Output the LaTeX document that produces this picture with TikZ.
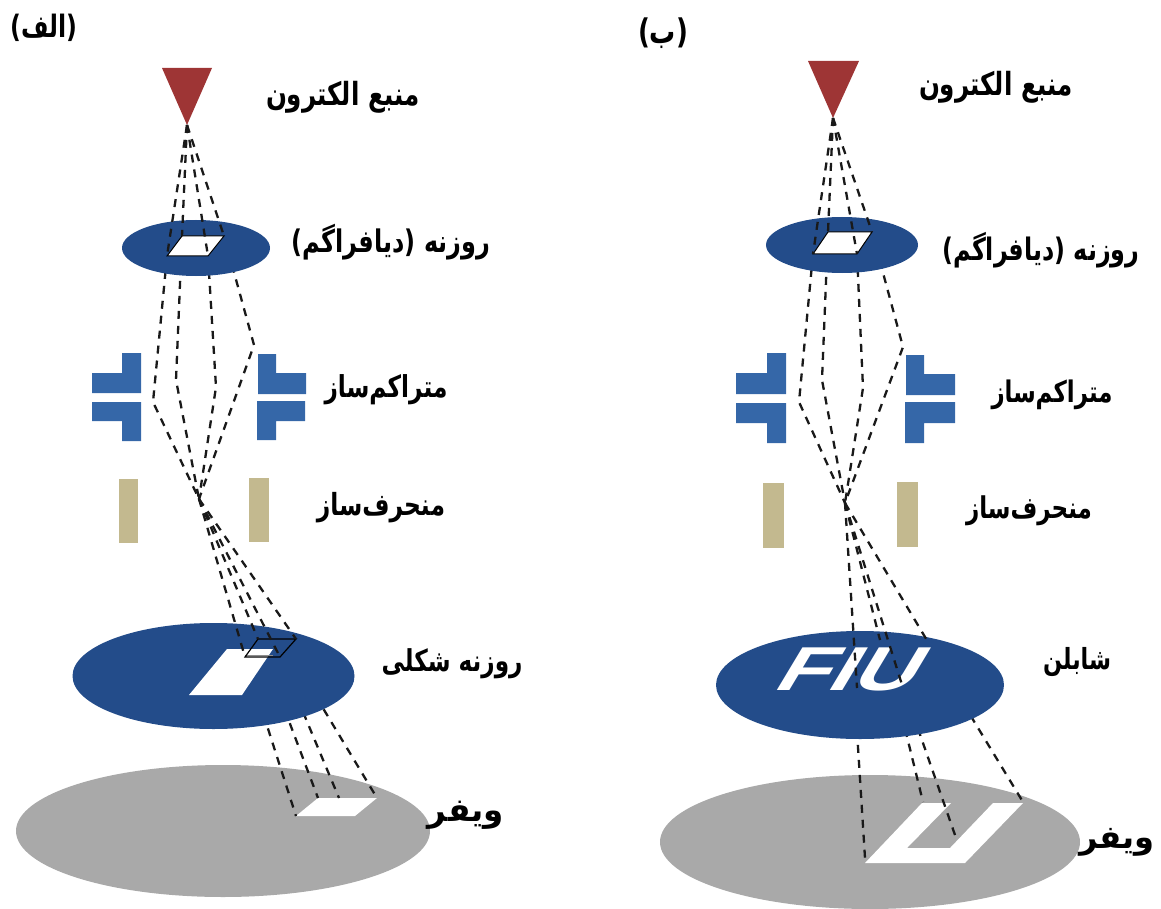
\documentclass[tikz,border=0pt]{standalone}
\usepackage{graphicx}
\usepackage{fontspec}
\setmainfont{Liberation Sans}
\newfontfamily\faf[Script=Arabic]{DejaVu Sans}
\TeXXeTstate=1
\newcommand{\lab}[3][1.3]{\scalebox{1}[#1]{\resizebox{#2pt}{!}{\faf\bfseries #3}}}
\definecolor{darkblue}{HTML}{234C8A}
\definecolor{midblue}{HTML}{3567A8}
\definecolor{srcred}{HTML}{9E3535}
\definecolor{tan2}{HTML}{C3B98F}
\definecolor{wafergrey}{HTML}{A9A9A9}
\tikzset{
  beam/.style={draw=black!90,line width=2.3pt,dash pattern=on 8pt off 7pt,line join=round},
  dia/.style={fill=darkblue,draw=none},
  plate/.style={fill=midblue,draw=none},
  defl/.style={fill=tan2,draw=none},
  wafer/.style={fill=wafergrey,draw=none},
  src/.style={fill=srcred,draw=none},
  hole/.style={fill=white,draw=none},
  frame/.style={fill=white,draw=black,line width=1pt},
  txt/.style={inner sep=0pt,outer sep=0pt}
}
\begin{document}
\begin{tikzpicture}[x=1pt,y=-1pt]
\useasboundingbox (0,0) rectangle (1161,909);
% ---------- panel A ----------
\coordinate (aS) at (187,125);
\coordinate (aA) at (167,256); \coordinate (aB) at (182,236);
\coordinate (aC) at (208,256); \coordinate (aD) at (224,236);
\coordinate (aV1) at (153,402); \coordinate (aV2) at (176,380);
\coordinate (aV3) at (216,387); \coordinate (aV4) at (254,345);
\coordinate (aX) at (199,499);
\coordinate (aP) at (245,657); \coordinate (aQ) at (258,639);
\coordinate (aR) at (280,657); \coordinate (aT) at (296,639);
\coordinate (aT2) at (285,645);
\coordinate (aW1) at (296,816); \coordinate (aW2) at (318,798);
\coordinate (aW3) at (339,798); \coordinate (aW4) at (377,798);
% wafer A
\fill[wafer] (223,831) ellipse [x radius=207,y radius=66];
\fill[hole] (aW1) -- (355,816) -- (aW4) -- (aW2) -- cycle;
% lower beams
\draw[beam] (aA) -- (aV1) -- (aX);
\draw[beam] (aB) -- (aV2) -- (aX);
\draw[beam] (aC) -- (aV3) -- (aX);
\draw[beam] (aD) -- (aV4) -- (aX);
\draw[beam] (aP) -- (aW1);
\draw[beam] (aQ) -- (aW2);
\draw[beam] (aR) -- (aW3);
\draw[beam] (aT2) -- (aW4);
% aperture A
\fill[dia] (196,248) ellipse [x radius=74,y radius=28];
\draw[frame] (aA) -- (aC) -- (aD) -- (aB) -- cycle;
% source A
\fill[src] (162,68) -- (212,68) -- (aS) -- cycle;
\draw[beam] (aS) -- (aA); \draw[beam] (aS) -- (aB);
\draw[beam] (aS) -- (aC); \draw[beam] (aS) -- (aD);
% condenser A
\fill[plate] (92,373) -- (122,373) -- (122,353) -- (141,353) -- (141,393) -- (92,393) -- cycle;
\fill[plate] (92,402) -- (141,402) -- (141,441) -- (122,441) -- (122,421) -- (92,421) -- cycle;
\fill[plate] (258,354) -- (276,354) -- (276,373) -- (306,373) -- (306,394) -- (258,394) -- cycle;
\fill[plate] (257,401) -- (305,401) -- (305,421) -- (276,421) -- (276,440) -- (257,440) -- cycle;
% deflector A
\fill[defl] (119,479) rectangle (138,543);
\fill[defl] (249,478) rectangle (269,542);
% shaped aperture A
\fill[dia] (213.5,676) ellipse [x radius=141,y radius=53];
\fill[hole] (189,695) -- (242,695) -- (273,649) -- (227,649) -- cycle;
\draw[black!45,line width=1pt] (245,655) -- (273,655);
\draw[black,line width=1.2pt] (aP) -- (aR) -- (aT) -- (aQ) -- cycle;
\draw[beam] (aX) -- (aP); \draw[beam] (aX) -- (aQ);
\draw[beam] (aX) -- (aR); \draw[beam] (aX) -- (aT);
% ---------- panel B ----------
\coordinate (bS) at (833,118);
\coordinate (bA) at (813,254); \coordinate (bB) at (828,232);
\coordinate (bC) at (857,254); \coordinate (bD) at (872,232);
\coordinate (bV1) at (799,402); \coordinate (bV2) at (822,380);
\coordinate (bV3) at (863,388); \coordinate (bV4) at (903,347);
\coordinate (bX) at (845,503);
\coordinate (bP) at (857,688); \coordinate (bQ) at (880,640);
\coordinate (bR) at (903,688); \coordinate (bT) at (928,642);
\coordinate (bH1) at (855,700); \coordinate (bH2) at (898,700);
\coordinate (bH3) at (908,700); \coordinate (bH4) at (955,690);
\coordinate (bW1) at (865,858); \coordinate (bW2) at (923,802);
\coordinate (bW3) at (955,835); \coordinate (bW4) at (1023,802);
% wafer B
\fill[wafer] (870,842) ellipse [x radius=210,y radius=67];
\fill[hole] (865,863) -- (965,863) -- (1023,803) -- (993,803) -- (950,848) -- (907,848) -- (951,803) -- (922,803) -- cycle;
% lower beams
\draw[beam] (bH1) -- (bW1);
\draw[beam] (bH2) -- (bW2);
\draw[beam] (bH3) -- (bW3);
\draw[beam] (bH4) -- (bW4);
\draw[beam] (bA) -- (bV1) -- (bX);
\draw[beam] (bB) -- (bV2) -- (bX);
\draw[beam] (bC) -- (bV3) -- (bX);
\draw[beam] (bD) -- (bV4) -- (bX);
% aperture B
\fill[dia] (842,245) ellipse [x radius=76,y radius=28];
\draw[frame] (bA) -- (bC) -- (bD) -- (bB) -- cycle;
% source B
\fill[src] (808,61) -- (859,61) -- (bS) -- cycle;
\draw[beam] (bS) -- (bA); \draw[beam] (bS) -- (bB);
\draw[beam] (bS) -- (bC); \draw[beam] (bS) -- (bD);
% condenser B
\fill[plate] (736,373) -- (767,373) -- (767,353) -- (786,353) -- (786,394) -- (736,394) -- cycle;
\fill[plate] (736,403) -- (786,403) -- (786,443) -- (767,443) -- (767,423) -- (736,423) -- cycle;
\fill[plate] (906,355) -- (924,355) -- (924,374) -- (955,374) -- (955,395) -- (906,395) -- cycle;
\fill[plate] (905,402) -- (955,402) -- (955,423) -- (924,423) -- (924,443) -- (905,443) -- cycle;
% deflector B
\fill[defl] (763,483) rectangle (784,548);
\fill[defl] (897,482) rectangle (918,547);
% stencil B
\fill[dia] (860,685) ellipse [x radius=144,y radius=54];
\node[txt,white,font=\bfseries\fontsize{62}{62}\selectfont,xslant=0.6,xscale=1.4,transform shape] (fiu) at (854,669) {FIU};
\draw[beam] (bX) -- (bP); \draw[beam] (bX) -- (bQ);
\draw[beam] (bX) -- (bR); \draw[beam] (bX) -- (bT);
% ---------- labels ----------
\node[txt] (tA) at (44,28) {\lab{67}{\beginR (الف)\endR}};
\node[txt] (tB) at (663,33) {\lab{50}{\beginR (ب)\endR}};
\node[txt] (a1) at (343,97) {\lab{154}{\beginR منبع الکترون\endR}};
\node[txt] (b1) at (996,87) {\lab{154}{\beginR منبع الکترون\endR}};
\node[txt] (a2) at (391,242) {\lab{198}{\beginR روزنه (دیافراگم)\endR}};
\node[txt] (b2) at (1041,250) {\lab{197}{\beginR روزنه (دیافراگم)\endR}};
\node[txt] (a3) at (386,390) {\lab{123}{\beginR متراکم‌ساز\endR}};
\node[txt] (b3) at (1052,395) {\lab{121}{\beginR متراکم‌ساز\endR}};
\node[txt] (a4) at (381,508) {\lab{128}{\beginR منحرف‌ساز\endR}};
\node[txt] (b4) at (1029,511) {\lab{126}{\beginR منحرف‌ساز\endR}};
\node[txt] (a5) at (452,664) {\lab{141}{\beginR روزنه شکلی\endR}};
\node[txt] (b5) at (1077,662) {\lab{68}{\beginR شابلن\endR}};
\node[txt] (a6) at (466,815) {\lab[1]{76}{\beginR ویفر\endR}};
\node[txt] (b6) at (1117,842) {\lab[1]{75}{\beginR ویفر\endR}};
\end{tikzpicture}
\end{document}
